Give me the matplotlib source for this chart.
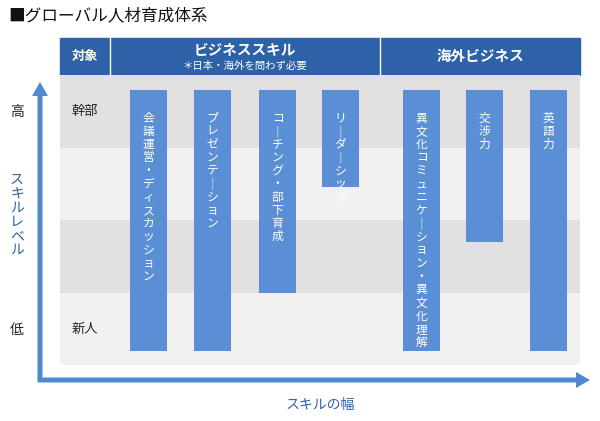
import matplotlib.pyplot as plt
from matplotlib.patches import Rectangle, FancyArrow

plt.rcParams['font.family'] = 'Noto Sans CJK JP'

# skill bars: label, column slot, bottom level (0=新人 .. 4=top of 幹部)
skills = ['会議運営・ディスカッション', 'プレゼンテーション', 'コーチング・部下育成',
          'リーダーシップ', '異文化コミュニケーション・異文化理解', '交渉力', '英語力']
bar_x = [130, 194, 259, 322, 403, 466, 530]
bar_bottom = [0.2, 0.2, 1.0, 2.45, 0.2, 1.7, 0.2]
bar_top = 3.8
row_labels = ['幹部', '', '', '新人']

BLUE = '#5a8fd6'
DARK = '#2d62a8'
AXIS = '#4f8ad0'

fig = plt.figure(figsize=(6, 4.21), dpi=100)
ax = fig.add_axes([0, 0, 1, 1])
ax.set_xlim(0, 600)
ax.set_ylim(421, 0)
ax.axis('off')

row_top, row_h = 75, 72.5
def lvl(v):
    return row_top + (4 - v) * row_h

ax.text(8, 16, '■グローバル人材育成体系', fontsize=12, va='center', ha='left', color='#111')

# header
ax.add_patch(Rectangle((60, 38), 520, 37, color=DARK))
for x in (110, 380):
    ax.plot([x, x], [38, 75], color='white', lw=1)
ax.text(85, 56, '対象', color='white', fontsize=9.5, ha='center', va='center', weight='bold')
ax.text(245, 50, 'ビジネススキル', color='white', fontsize=10.5, ha='center', va='center', weight='bold')
ax.text(245, 66, '＊日本・海外を問わず必要', color='white', fontsize=7.5, ha='center', va='center')
ax.text(480, 56, '海外ビジネス', color='white', fontsize=10.5, ha='center', va='center', weight='bold')

# row bands
for i in range(4):
    c = '#e1e1e1' if i % 2 == 0 else '#f1f1f1'
    ax.add_patch(Rectangle((60, row_top + i * row_h), 520, row_h, color=c, lw=0))
    if row_labels[i]:
        ax.text(85, row_top + i * row_h + 37, row_labels[i], fontsize=9.5, ha='center', va='center', color='#222')

# bars
w = 37
for s, x, b in zip(skills, bar_x, bar_bottom):
    y0, y1 = lvl(bar_top), lvl(b)
    ax.add_patch(Rectangle((x, y0), w, y1 - y0, color=BLUE, lw=0))
    txt = '\n'.join(s.replace('ー', '｜'))
    ax.text(x + w / 2, y0 + 22, txt, color='white', fontsize=8.5, ha='center', va='top',
            linespacing=1.02)

# axes arrows
ax.add_patch(FancyArrow(40, 382, 0, -300, width=5, head_width=16, head_length=14,
                        length_includes_head=True, color=AXIS, lw=0))
ax.add_patch(FancyArrow(38, 380, 552, 0, width=5, head_width=16, head_length=14,
                        length_includes_head=True, color=AXIS, lw=0))
ax.text(17, 112, '高', fontsize=10, ha='center', va='center', color='#222')
ax.text(17, 330, '低', fontsize=10, ha='center', va='center', color='#222')
ax.text(17, 215, '\n'.join('スキルレベル'), fontsize=10, ha='center', va='center',
        color=DARK, linespacing=1.0)
ax.text(320, 405, 'スキルの幅', fontsize=10, ha='center', va='center', color=DARK)

fig.savefig('out.png', dpi=100)
